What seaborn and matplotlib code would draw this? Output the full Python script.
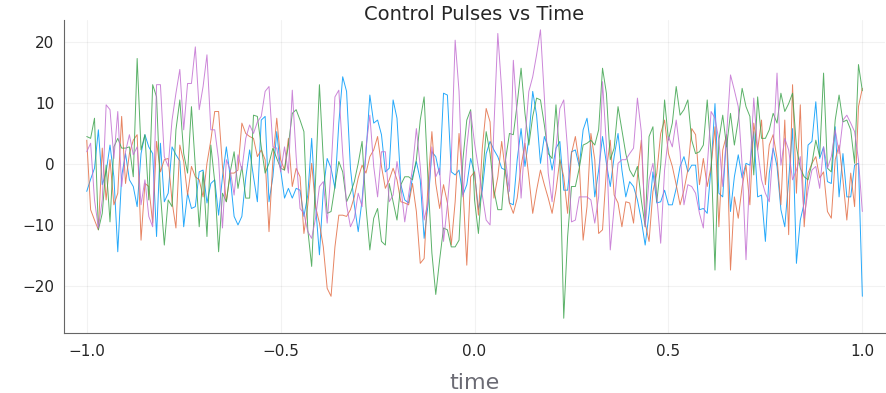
import numpy as np
import pandas as pd
import seaborn as sns
import matplotlib.pyplot as plt

# time grid, 201 samples from -1 to 1
time = np.linspace(-1.0, 1.0, 201)

pulse_1 = [
    -4.5, -2.5, -0.7, 5.6, -3.4, -1.3, 3.1, -2.1, -14.4, -2.0, 1.7, -2.6, -3.7, -7.0, 1.7, 4.8, 2.8, 1.7, -11.9, 3.4, -6.2, -4.8, 2.8, 1.5, 0.5, -10.3,
    -4.8, -7.3, -7.0, -1.3, -1.0, -6.4, -3.2, -2.6, -8.4, -2.1, 2.8, -2.1, -8.6, -10.0, -8.6, -2.3, 2.3, -2.1, -6.2, 7.2, 7.8, -6.2, -2.1, 5.3, -1.0,
    -5.6, -4.0, -5.6, -4.0, -4.3, -8.6, -5.1, 4.2, -6.7, -14.9, -4.3, 0.9, -0.7, -4.0, 6.7, 14.3, 11.9, -0.7, -6.7, -11.1, -5.9, 1.7, 11.3, 6.7, 7.2, 4.8,
    -1.3, -0.7, 10.5, 7.5, -3.4, -5.9, -6.4, -2.1, 0.4, -2.6, -12.2, -6.7, 2.0, 1.2, -1.8, 11.6, 11.3, -1.3, -1.8, -1.0, -5.1, -3.4, 0.9, -1.5, -7.5, -4.3,
    1.7, 3.7, 2.3, 1.2, -0.7, -1.0, -6.4, -6.7, 0.7, 5.8, -0.4, 4.2, 11.9, 8.0, 0.1, 4.5, 2.6, -1.0, 2.6, 3.7, -4.3, -4.3, 2.0, 2.3, -0.4, 5.6,
    7.5, 2.8, -5.4, -1.0, 4.5, 0.1, -3.7, 1.2, 5.0, -1.0, -5.4, -2.9, -3.7, -5.9, -9.2, -13.3, -8.1, -1.3, -6.4, -6.2, -4.3, -6.7, -6.7, -4.0, -0.4, 1.2,
    -1.3, -0.2, -0.2, -7.5, -7.3, -8.1, -0.4, 9.9, -4.8, -5.4, 4.8, -7.8, -2.1, 1.5, -2.3, 0.1, -0.2, 5.3, -5.4, -5.1, -12.7, -1.5, 2.6, -0.4, -7.5, -10.3,
    -2.6, 5.8, -16.3, -9.2, -6.4, 3.1, 3.7, 10.2, 0.9, 2.8, -2.9, -3.2, 6.1, -5.4, 1.7, -5.4, -5.4, -0.2, 0.1, -21.7,
]

pulse_2 = [
    3.9, -7.5, -9.2, -10.8, 2.6, -5.9, 0.7, -6.7, -4.8, 7.8, -3.2, 1.7, 3.9, 4.8, -12.5, -3.2, -3.7, -9.7, 3.7, -1.3, 0.7, 0.9, -6.2, -10.5, 3.1, 0.4,
    -5.1, -0.4, -2.1, -2.6, -5.4, 0.1, 3.9, 8.6, 8.6, -0.4, -6.2, -1.5, -1.5, -1.0, 6.7, 5.0, 4.5, 4.2, 1.2, 2.3, 0.7, -11.1, 0.7, 7.5, 0.7,
    -1.0, 4.2, -3.7, -0.7, -2.1, -11.4, -6.7, 0.1, -7.0, -9.7, -13.6, -20.4, -21.7, -13.6, -8.4, -8.4, -8.6, -7.5, -5.4, -2.3, -0.2, -1.5, 1.2, 2.3, 4.5, -0.4,
    -4.0, -2.6, -0.7, -2.6, -6.2, -6.4, -6.7, -3.2, -7.8, -16.3, -15.5, -3.4, 5.3, -3.2, -7.3, -3.4, -6.4, -13.3, -6.2, 5.0, -3.7, -16.6, -2.1, -1.3, -8.4, 2.6,
    9.1, 6.9, -5.6, -2.1, 3.7, -1.5, -6.4, -8.1, -5.6, -0.4, 3.4, -2.1, -8.1, -4.3, -1.0, -3.4, -5.6, -8.1, -4.3, 0.7, -2.1, -8.1, 1.7, 4.5, 0.1, -12.5,
    -7.0, 5.0, 0.7, -11.4, -10.8, -1.0, 3.9, -5.1, -6.4, -10.3, -6.2, -6.4, -9.7, -2.1, 3.9, -9.7, -12.7, -4.5, -1.5, 5.0, 7.2, 1.7, -0.4, -3.4, -6.7, -4.3,
    -1.0, 5.8, 4.8, -3.4, 0.9, -3.7, -0.4, 6.1, -10.3, 2.3, 4.8, -17.4, -5.4, -8.9, -3.7, -0.2, -6.7, 6.7, 2.3, 7.2, -3.4, 3.1, 4.8, 0.9, -6.7, 7.2,
    -11.6, 13.0, -4.8, 9.7, -10.3, -1.5, 0.1, 1.2, -2.3, -1.3, -7.8, -8.9, 0.7, 3.1, -2.6, -9.2, -1.5, -7.0, 9.4, 12.4,
]

pulse_3 = [
    4.5, 4.2, 7.5, -10.8, -8.1, -0.2, -9.5, 2.8, 4.2, 2.6, 2.6, 2.8, -2.1, 17.3, 2.3, 4.8, -5.9, 13.0, 11.0, -4.8, -13.3, -5.9, -7.0, 5.6, 10.5, 1.7,
    -1.5, 9.4, -0.4, -10.3, -1.3, -11.9, 3.1, -2.9, -14.4, -4.8, -6.2, -1.3, 2.0, -4.0, -0.4, -5.6, -5.6, 8.0, 7.8, 2.8, -1.5, 0.1, 2.6, 0.9, -0.7,
    -1.0, 3.1, 8.3, 8.9, 7.2, 5.3, -10.8, -16.8, -2.6, 13.0, 0.7, -8.1, -7.8, -3.7, 0.4, -1.3, -6.2, -4.8, -2.9, 0.1, 3.7, -7.0, -14.1, -8.9, -7.3, -12.7,
    -13.3, -3.2, -6.2, -9.2, -3.4, -2.1, -2.1, -2.6, 0.7, 7.2, 11.0, -2.6, -14.6, -21.4, -15.7, -10.5, -10.8, -13.6, -13.6, -12.5, 0.7, 7.2, 8.9, -5.9, -11.4, -2.6,
    5.3, 1.7, -4.3, -7.5, -7.5, 0.7, 5.0, 4.8, 9.9, 15.7, 8.3, 3.1, 7.8, 10.8, 10.5, 6.4, 1.7, 0.9, 9.7, 0.7, -25.3, -11.9, -3.7, -3.7, -0.7, 3.1,
    3.4, 3.9, 3.1, 5.6, 15.7, 11.6, 0.7, 2.6, 9.4, 5.6, 1.7, -1.0, -2.1, -0.4, -5.9, -10.3, 4.5, 6.1, -6.2, -0.2, 10.5, 3.9, 6.7, 12.7, 8.0, 8.9,
    10.5, 3.9, 1.7, 2.0, 3.1, 10.5, 1.7, -17.4, 3.9, 8.0, 2.8, 8.3, 3.1, 7.2, 12.4, 9.4, 7.8, -1.8, 11.0, 4.2, 4.2, 5.6, 8.3, 6.7, 11.6, 8.6,
    9.9, 11.6, 2.8, -0.7, -2.1, -2.6, 0.1, 3.9, 1.2, 14.9, -0.7, -1.3, 7.2, 11.3, 6.9, 7.2, 5.6, 0.1, 16.3, 12.0,
]

pulse_4 = [
    2.0, 3.4, -5.9, -10.5, -5.9, 9.7, 8.9, 0.9, 8.6, -3.7, 2.0, 4.8, 1.5, 2.8, -6.7, -2.6, -8.6, -10.3, 13.0, 13.0, 1.2, -0.4, 7.2, 11.6, 15.5, 5.6,
    13.2, 13.2, 19.2, 8.9, 12.7, 17.9, 5.6, 5.6, 0.7, -10.5, 0.7, -1.0, -5.1, 1.5, -1.0, 4.2, 6.4, 5.0, 6.9, 7.8, 11.9, 12.7, 2.8, 2.6, -1.3,
    2.8, -1.5, 12.1, 1.2, -7.3, -8.1, -11.1, -12.2, -8.9, -3.7, -2.9, -9.7, -1.0, 11.0, 12.1, 1.7, -6.7, -10.3, -8.9, -4.8, -7.0, 2.6, 8.0, -0.4, -5.4, 2.0,
    2.0, -6.2, -5.1, 0.4, -3.7, -9.5, -5.1, -0.7, 5.8, -0.4, -9.2, -6.2, 2.8, -2.1, -0.7, -12.7, -6.7, 0.7, 20.3, 11.9, -5.4, 2.8, 8.6, 3.4, -0.7, -5.1,
    -9.2, -10.0, 6.1, 21.4, 12.1, 0.7, -4.5, 17.0, 7.8, -5.6, 3.9, 11.9, 14.3, 17.9, 22.0, 11.0, -1.5, -6.2, 2.6, 9.1, 10.5, 2.3, -9.5, -9.2, -5.4, -5.4,
    -5.4, -5.9, -9.7, -5.4, 13.5, 3.1, -14.1, -7.0, 0.1, 0.7, 0.7, 1.7, 2.6, 10.8, 5.3, -10.3, -2.6, 0.1, -5.4, -13.0, -1.0, 4.5, 2.8, 7.2, 2.0, -6.7,
    -3.4, -3.7, -4.8, -8.1, -10.5, -0.4, 8.6, 7.5, 3.9, -3.7, 4.8, 14.6, 12.1, 9.4, -0.2, -15.7, -1.0, 10.8, 2.3, -2.6, -4.8, -6.2, 2.6, 14.9, -0.2, 4.2,
    2.3, -2.6, -1.0, 1.2, -8.9, -4.3, -1.0, -0.4, -4.0, 2.8, -0.7, 1.2, 5.6, 1.7, 7.2, 8.0, 6.7, 5.3, 0.7, -7.8,
]

series_names = ["y1", "y2", "y3", "y4"]
colors = ["#009AFA", "#E36F47", "#3EA44E", "#C371D2"]

frames = []
for name, vals in zip(series_names, [pulse_1, pulse_2, pulse_3, pulse_4]):
    frames.append(pd.DataFrame({"time": time, "value": vals, "series": name}))
df = pd.concat(frames, ignore_index=True)

sns.set_style("white")
plt.rcParams["font.family"] = ["DejaVu Sans"]
plt.rcParams["axes.unicode_minus"] = True

fig = plt.figure(figsize=(8.87, 3.93), dpi=100)
ax = fig.add_axes([0.072, 0.153, 0.926, 0.796])

sns.lineplot(data=df, x="time", y="value", hue="series", palette=colors,
             linewidth=0.7, alpha=0.85, legend=False, ax=ax,
             estimator=None, sort=False)

ax.set_xlim(-1.059, 1.059)
ax.set_ylim(-27.7, 23.6)
ax.set_xticks([-1.0, -0.5, 0.0, 0.5, 1.0])
ax.set_xticklabels(["\u22121.0", "\u22120.5", "0.0", "0.5", "1.0"])
ax.set_yticks([-20, -10, 0, 10, 20])
ax.set_yticklabels(["\u221220", "\u221210", "0", "10", "20"])
ax.grid(True, color="black", alpha=0.05, linewidth=0.8)
ax.tick_params(axis="x", labelsize=11, length=0, pad=8)
ax.tick_params(axis="y", labelsize=11, length=0, pad=7)

for side in ["top", "right"]:
    ax.spines[side].set_visible(False)
for side in ["left", "bottom"]:
    ax.spines[side].set_color("#666666")
    ax.spines[side].set_linewidth(0.8)

ax.set_title("Control Pulses vs Time", fontsize=14, pad=0)
ax.set_xlabel("time", fontsize=16, color="#6b6b74", labelpad=10)
ax.set_ylabel("")

fig.savefig("out.png", dpi=100)
